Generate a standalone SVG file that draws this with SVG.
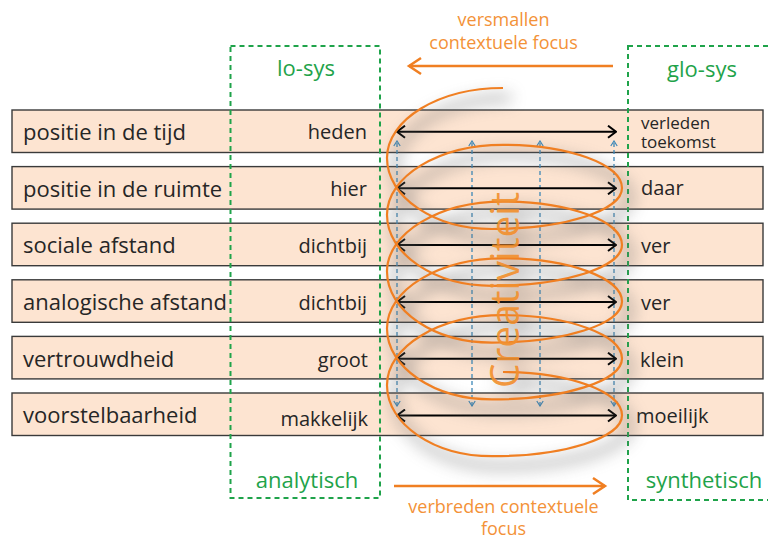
<svg xmlns="http://www.w3.org/2000/svg" width="768" height="541" viewBox="0 0 768 541">
  <style>
    .row { fill: #fde4d1; stroke: #3a3a3a; stroke-width: 1.4; }
    .lbl { font-family: "Open Sans", "Noto Sans", sans-serif; font-size: 22px; fill: #262626; }
    .mid { font-family: "Open Sans", "Noto Sans", sans-serif; font-size: 20px; fill: #262626; text-anchor: end; }
    .far { font-family: "Open Sans", "Noto Sans", sans-serif; font-size: 20px; fill: #262626; }
    .small { font-family: "Open Sans", "Noto Sans", sans-serif; font-size: 17px; fill: #262626; }
    .sys { fill: none; stroke: #1fa34a; stroke-width: 2; stroke-dasharray: 5 4; }
    .green { font-family: "Open Sans", "Noto Sans", sans-serif; font-size: 22px; fill: #1fa34a; text-anchor: middle; }
    .orange { font-family: "Open Sans", "Noto Sans", sans-serif; font-size: 18px; fill: #f39238; text-anchor: middle; }
    .dbl { stroke: #000; stroke-width: 2; marker-start: url(#chev); marker-end: url(#chev); }
    .blue { stroke: #3d88b8; stroke-width: 1.3; stroke-dasharray: 4 3; marker-start: url(#bchev); marker-end: url(#bchev); }
    .focus { stroke: #f07f22; stroke-width: 2.5; fill: none; }
    .coil { fill: none; stroke: #f07f22; stroke-width: 2.2; }
  </style>
  <defs>
    <marker id="chev" viewBox="0 0 10 14" refX="9" refY="7" markerWidth="10" markerHeight="14" markerUnits="userSpaceOnUse" orient="auto-start-reverse">
      <path d="M1,1 L9,7 L1,13" fill="none" stroke="#000" stroke-width="2"/>
    </marker>
    <marker id="bchev" viewBox="0 0 7 8" refX="6" refY="4" markerWidth="7" markerHeight="8" markerUnits="userSpaceOnUse" orient="auto-start-reverse">
      <path d="M1,0.8 L6,4 L1,7.2" fill="none" stroke="#3d88b8" stroke-width="1.2"/>
    </marker>
    <filter id="haze" x="-30%" y="-30%" width="160%" height="160%">
      <feGaussianBlur stdDeviation="8"/>
    </filter>
    <path id="coilPath" d="M503,88 C439,88 387,119.4 387,158 C387,197 434,229 492,229 C564,229 622,210.6 622,188 C622,164.3 568.7,144.8 503,144.8
      C439,144.8 387,176.2 387,214.8 C387,253.8 434,285.8 492,285.8 C564,285.8 622,267.4 622,244.8 C622,221.1 568.7,201.6 503,201.6
      C439,201.6 387,233 387,271.6 C387,310.6 434,342.6 492,342.6 C564,342.6 622,324.2 622,301.6 C622,277.9 568.7,258.4 503,258.4
      C439,258.4 387,289.8 387,328.4 C387,367.4 434,399.4 492,399.4 C564,399.4 622,381 622,358.4 C622,334.7 568.7,315.2 503,315.2
      C439,315.2 387,346.6 387,385.2 C387,424.2 434,456.2 492,456.2 C564,456.2 622,437.8 622,415.2 C622,391.5 568.7,372 503,372"/>
  </defs>

  <rect width="768" height="541" fill="#ffffff"/>

  <!-- dimension rows -->
  <g id="row-tijd">
    <rect class="row" x="12" y="110" width="751" height="42.5"/>
    <text class="lbl" x="23" y="140">positie in de tijd</text>
    <text class="mid" x="367" y="139">heden</text>
    <text class="small" x="641" y="129">verleden</text>
    <text class="small" x="641" y="147.5">toekomst</text>
  </g>
  <g id="row-ruimte">
    <rect class="row" x="12" y="166.6" width="751" height="42.5"/>
    <text class="lbl" x="23" y="197">positie in de ruimte</text>
    <text class="mid" x="367" y="196">hier</text>
    <text class="far" x="641" y="195">daar</text>
  </g>
  <g id="row-sociaal">
    <rect class="row" x="12" y="223.2" width="751" height="42.5"/>
    <text class="lbl" x="23" y="253">sociale afstand</text>
    <text class="mid" x="367" y="253">dichtbij</text>
    <text class="far" x="641" y="253">ver</text>
  </g>
  <g id="row-analogisch">
    <rect class="row" x="12" y="279.8" width="751" height="42.5"/>
    <text class="lbl" x="23" y="310">analogische afstand</text>
    <text class="mid" x="367" y="310">dichtbij</text>
    <text class="far" x="641" y="310">ver</text>
  </g>
  <g id="row-vertrouwd">
    <rect class="row" x="12" y="336.4" width="751" height="42.5"/>
    <text class="lbl" x="23" y="367">vertrouwdheid</text>
    <text class="mid" x="368" y="367">groot</text>
    <text class="far" x="640" y="367">klein</text>
  </g>
  <g id="row-voorstelbaar">
    <rect class="row" x="12" y="393" width="751" height="42.5"/>
    <text class="lbl" x="23" y="423">voorstelbaarheid</text>
    <text class="mid" x="368" y="426">makkelijk</text>
    <text class="far" x="636" y="423">moeilijk</text>
  </g>

  <!-- system frames -->
  <g id="lo-sys">
    <rect class="sys" x="230.5" y="46" width="149.5" height="452"/>
    <text class="green" x="306" y="76">lo-sys</text>
    <text class="green" x="307" y="488">analytisch</text>
  </g>
  <g id="glo-sys">
    <rect class="sys" x="628" y="46" width="160" height="454"/>
    <text class="green" x="702" y="77">glo-sys</text>
    <text class="green" x="704" y="488">synthetisch</text>
  </g>

  <!-- connectors -->
  <g id="connectors">
    <line class="blue" x1="397" y1="406" x2="397" y2="141"/>
    <line class="blue" x1="472" y1="406" x2="472" y2="141"/>
    <line class="blue" x1="540" y1="406" x2="540" y2="141"/>
    <line class="blue" x1="614" y1="406" x2="614" y2="141"/>

    <line class="dbl" x1="397" y1="131.7" x2="616" y2="131.7"/>
    <line class="dbl" x1="397" y1="188.3" x2="616" y2="188.3"/>
    <line class="dbl" x1="397" y1="245" x2="616" y2="245"/>
    <line class="dbl" x1="397" y1="302" x2="616" y2="302"/>
    <line class="dbl" x1="397" y1="358.7" x2="616" y2="358.7"/>
    <line class="dbl" x1="397" y1="415.5" x2="616" y2="415.5"/>

    <line class="focus" x1="613" y1="66" x2="409" y2="66"/>
    <path class="focus" d="M421,58 L409,66 L421,74"/>
    <line class="focus" x1="394" y1="486" x2="605" y2="486"/>
    <path class="focus" d="M593,478 L605,486 L593,494"/>
  </g>

  <g id="focus-labels">
    <text class="orange" x="503.5" y="26">versmallen</text>
    <text class="orange" x="503.5" y="49">contextuele focus</text>
    <text class="orange" x="503.5" y="513">verbreden contextuele</text>
    <text class="orange" x="503.5" y="535">focus</text>
  </g>

  <!-- creativity coil with its soft shadow -->
  <g id="creativiteit">
    <g filter="url(#haze)" opacity="0.5" transform="translate(8,10)">
      <use href="#coilPath" fill="none" stroke="#707070" stroke-width="8"/>
      <text transform="translate(519,388) rotate(-90)" x="0" y="0" textLength="196" lengthAdjust="spacingAndGlyphs" font-family="Open Sans, Noto Sans, sans-serif" font-size="41" fill="#505050">Creativiteit</text>
    </g>
    <use href="#coilPath" class="coil"/>
    <text transform="translate(519,388) rotate(-90)" x="0" y="0" textLength="196" lengthAdjust="spacingAndGlyphs" font-family="Open Sans, Noto Sans, sans-serif" font-size="41" fill="#f2902e" fill-opacity="0.92">Creativiteit</text>
  </g>
</svg>
